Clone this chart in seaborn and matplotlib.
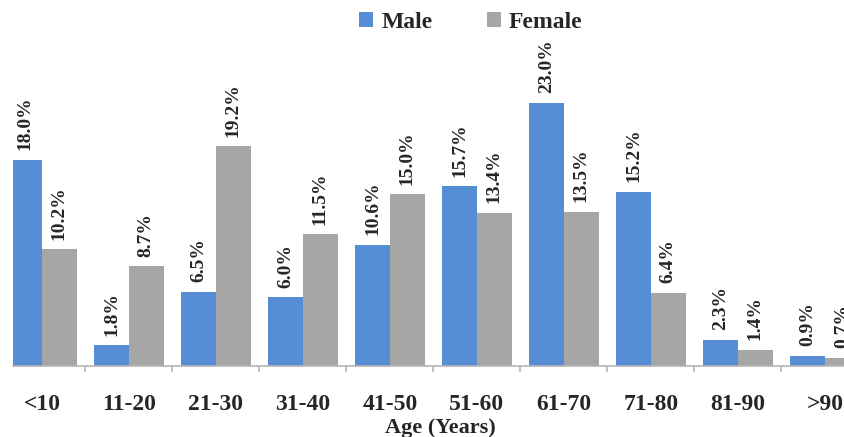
import matplotlib
matplotlib.use("Agg")
import matplotlib.pyplot as plt
import pandas as pd
import seaborn as sns
import numpy as np

ages = ['<10', '11-20', '21-30', '31-40', '41-50', '51-60', '61-70', '71-80', '81-90', '>90']
male = [18.0, 1.8, 6.5, 6.0, 10.6, 15.7, 23.0, 15.2, 2.3, 0.9]
female = [10.2, 8.7, 19.2, 11.5, 15.0, 13.4, 13.5, 6.4, 1.4, 0.7]

df = pd.DataFrame({
    "age": ages * 2,
    "pct": male + female,
    "sex": ["Male"] * len(ages) + ["Female"] * len(ages),
})

sns.set_style("white")
plt.rcParams['font.family'] = ['Liberation Serif', 'DejaVu Serif']
plt.rcParams['font.weight'] = 'bold'

fig = plt.figure(figsize=(8.45, 4.37), dpi=100)
# plot area starts a little inside the left edge and runs off the right edge
ax = fig.add_axes([13 / 845, 71 / 437, 855.5 / 845, 286 / 437])

sns.barplot(
    data=df, x="age", y="pct", hue="sex", order=ages,
    palette={"Male": "#558ED5", "Female": "#A6A6A6"},
    width=0.795, saturation=1, linewidth=0, ax=ax, legend=True,
)

for cont in ax.containers:
    ax.bar_label(cont, labels=[f"{v:.1f}%" for v in cont.datavalues],
                 rotation=90, padding=7, fontsize=14, fontweight='bold')

ax.set_xlim(-1 / 3, 9.5)
ax.set_ylim(0, 25)
ax.set_yticks([])
ax.set_ylabel('')
for s in ['left', 'top', 'right']:
    ax.spines[s].set_visible(False)
ax.spines['bottom'].set_color('#B5B5B5')
ax.spines['bottom'].set_linewidth(1.2)

ax.set_xticks(range(len(ages)))
ax.set_xticklabels(ages, fontsize=17, fontweight='bold')
ax.set_xticks(np.arange(len(ages)) + 0.5, minor=True)
ax.tick_params(axis='x', which='major', length=0, pad=20)
ax.tick_params(axis='x', which='minor', length=4, color='#B5B5B5', width=1.2, bottom=True)
ax.set_xlabel('Age (Years)', fontsize=16, fontweight='bold', labelpad=2)

ax.get_legend().remove()
h, l = ax.get_legend_handles_labels()
fig.legend(h, l, loc='center', bbox_to_anchor=(0.557, 0.948), ncol=2, frameon=False,
           prop={'size': 17, 'weight': 'bold'}, handlelength=0.6, handleheight=0.6,
           handletextpad=0.35, columnspacing=2.3)

fig.savefig('out.png', dpi=100)
